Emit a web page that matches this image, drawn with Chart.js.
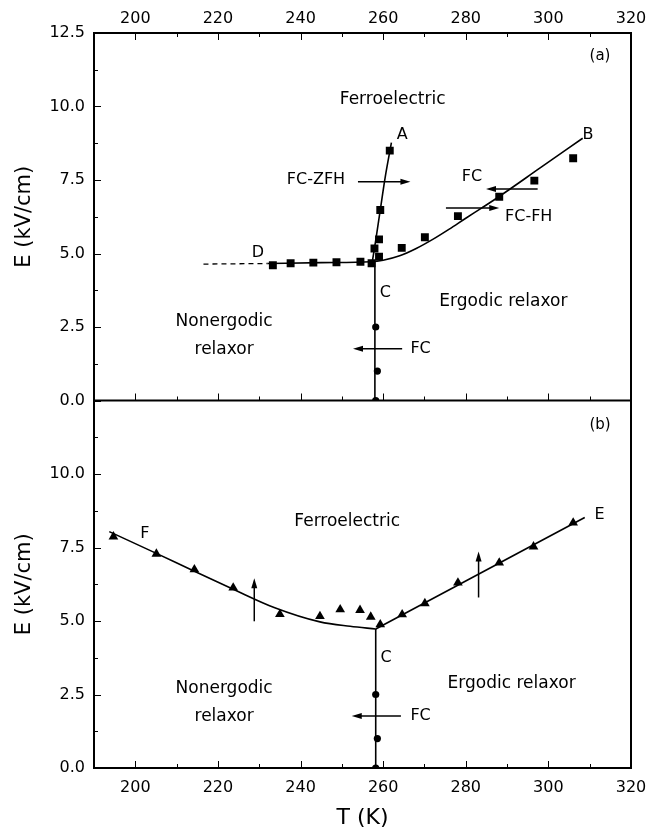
<!DOCTYPE html>
<html>
<head>
<meta charset="utf-8">
<script src="https://cdn.jsdelivr.net/npm/chart.js@4.4.0/dist/chart.umd.min.js"></script>
<style>
  html, body { margin: 0; padding: 0; background: #fff; }
  #wrap { width: 661px; height: 839px; }
</style>
</head>
<body>
<div id="wrap"><canvas id="phaseChart" width="661" height="839"></canvas></div>
<script>
// Global font settings
Chart.defaults.font.family = "'DejaVu Sans', sans-serif";
Chart.defaults.color = '#000';

// Axis ticks
const xMajor = [200, 220, 240, 260, 280, 300, 320];
const xMinor = [210, 230, 250, 270, 290, 310];
const yMajor = [0, 2.5, 5, 7.5, 10, 12.5];
const yMinor = [1.25, 3.75, 6.25, 8.75, 11.25];

// Panel (a): measured points
const sqT = [233.3, 237.6, 243.1, 248.7, 254.5, 257.2, 257.9, 259.0, 259.0, 259.3, 261.6, 264.5, 270.1, 278.1, 288.1, 296.6, 306.0];
const sqE = [4.60, 4.67, 4.69, 4.70, 4.72, 4.67, 5.17, 4.89, 5.48, 6.48, 8.50, 5.19, 5.55, 6.27, 6.93, 7.48, 8.24];
const circAT = [258.2, 258.6, 258.2];
const circAE = [2.5, 1.0, 0.0];

// Panel (a): boundary lines
const lineAT = [257.3, 258.2, 259.3, 260.5, 262.0];
const lineAE = [4.66, 5.45, 6.48, 7.60, 8.77];
const dashDT = [216.5, 232.0];
const dashDE = [4.64, 4.66];
const curveBT = [232.0, 245.0, 257.0, 260.0, 264.0, 268.0, 272.0, 276.0, 280.0, 284.0, 288.0, 298.0, 308.3];
const curveBE = [4.66, 4.69, 4.72, 4.77, 4.92, 5.17, 5.48, 5.83, 6.20, 6.56, 6.93, 7.91, 8.92];
const vertAT = [258.0, 258.0];
const vertAE = [4.72, 0.0];

// Panel (b): measured points
const triT = [194.7, 205.1, 214.3, 223.7, 235.0, 244.7, 249.6, 254.4, 257.0, 259.3, 264.6, 270.1, 278.1, 288.1, 296.4, 306.0];
const triE = [7.87, 7.28, 6.75, 6.13, 5.23, 5.16, 5.39, 5.37, 5.14, 4.88, 5.22, 5.60, 6.30, 6.98, 7.53, 8.34];
const circBT = [258.2, 258.6, 258.2];
const circBE = [2.5, 1.0, 0.0];

// Panel (b): boundary lines
const curveFT = [193.7, 205.1, 214.3, 223.7, 233.6, 244.7, 252.0, 258.2];
const curveFE = [8.04, 7.30, 6.69, 6.08, 5.46, 4.97, 4.82, 4.73];
const lineET = [258.2, 308.8];
const lineEE = [4.73, 8.52];
const vertBT = [258.2, 258.2];
const vertBE = [4.73, 0.0];

// Arrows [fromT, fromE, toT, toE]
const arrowsA = [
    [253.9, 7.44, 266.6, 7.44],
    [297.4, 7.19, 284.9, 7.19],
    [275.2, 6.55, 288.1, 6.55],
    [264.6, 1.76, 252.7, 1.76]
];
const arrowsB = [
    [228.8, 4.99, 228.8, 6.45],
    [283.1, 5.80, 283.1, 7.36],
    [264.3, 1.77, 252.4, 1.77]
];

// Text labels [text, T, E, align, size]
const labelsA = [
    ['(a)', 312.5, 11.7, 'center', 15],
    ['Ferroelectric', 262.3, 10.23, 'center', 17],
    ['A', 264.6, 9.03, 'center', 16],
    ['B', 309.6, 9.03, 'center', 16],
    ['FC-ZFH', 250.8, 7.5, 'right', 16],
    ['FC', 281.5, 7.61, 'center', 16],
    ['FC-FH', 289.5, 6.25, 'left', 16],
    ['D', 229.7, 5.02, 'center', 16],
    ['C', 260.5, 3.66, 'center', 16],
    ['Ergodic relaxor', 289.1, 3.35, 'center', 17],
    ['Nonergodic', 221.5, 2.67, 'center', 17],
    ['relaxor', 221.5, 1.73, 'center', 17],
    ['FC', 266.6, 1.76, 'left', 16]
];
const labelsB = [
    ['(b)', 312.5, 11.67, 'center', 15],
    ['Ferroelectric', 251.3, 8.38, 'center', 17],
    ['F', 202.3, 7.98, 'center', 16],
    ['E', 312.4, 8.6, 'center', 16],
    ['C', 260.7, 3.76, 'center', 16],
    ['Ergodic relaxor', 291.1, 2.87, 'center', 17],
    ['Nonergodic', 221.5, 2.70, 'center', 17],
    ['relaxor', 221.5, 1.76, 'center', 17],
    ['FC', 266.6, 1.77, 'left', 16]
];

const pts = (xs, ys) => xs.map((v, i) => ({ x: v, y: ys[i] }));

function lineSet(xs, ys, axis, extra) {
    return Object.assign({
        data: pts(xs, ys),
        yAxisID: axis,
        showLine: true,
        borderColor: '#000',
        borderWidth: 1.6,
        pointRadius: 0,
        fill: false
    }, extra || {});
}

function markSet(xs, ys, axis, style, radius) {
    return {
        data: pts(xs, ys),
        yAxisID: axis,
        showLine: false,
        pointStyle: style,
        pointRadius: radius,
        backgroundColor: '#000',
        borderColor: '#000',
        borderWidth: 0
    };
}

// Frame, inward ticks, arrows and labels
const decor = {
    id: 'decor',
    afterDatasetsDraw(chart) {
        const ctx = chart.ctx;
        const xs = chart.scales.x;
        const panels = [
            [chart.scales.yTop, arrowsA, labelsA],
            [chart.scales.yBot, arrowsB, labelsB]
        ];
        ctx.save();
        panels.forEach(([ys, arrows, labels]) => {
            arrows.forEach(a => {
                const x1 = xs.getPixelForValue(a[0]), y1 = ys.getPixelForValue(a[1]);
                const x2 = xs.getPixelForValue(a[2]), y2 = ys.getPixelForValue(a[3]);
                const ang = Math.atan2(y2 - y1, x2 - x1);
                ctx.strokeStyle = '#000';
                ctx.lineWidth = 1.5;
                ctx.beginPath();
                ctx.moveTo(x1, y1);
                ctx.lineTo(x2 - 6 * Math.cos(ang), y2 - 6 * Math.sin(ang));
                ctx.stroke();
                ctx.fillStyle = '#000';
                ctx.beginPath();
                ctx.moveTo(x2, y2);
                ctx.lineTo(x2 - 10 * Math.cos(ang) + 3 * Math.sin(ang), y2 - 10 * Math.sin(ang) - 3 * Math.cos(ang));
                ctx.lineTo(x2 - 10 * Math.cos(ang) - 3 * Math.sin(ang), y2 - 10 * Math.sin(ang) + 3 * Math.cos(ang));
                ctx.closePath();
                ctx.fill();
            });
            labels.forEach(l => {
                ctx.font = l[4] + "px 'DejaVu Sans', sans-serif";
                ctx.fillStyle = '#000';
                ctx.textAlign = l[3];
                ctx.textBaseline = 'middle';
                ctx.fillText(l[0], xs.getPixelForValue(l[1]), ys.getPixelForValue(l[2]));
            });
        });
        ctx.restore();
    },
    afterDraw(chart) {
        const ctx = chart.ctx;
        const xs = chart.scales.x;
        const ca = chart.chartArea;
        ctx.save();
        ctx.strokeStyle = '#000';
        ctx.lineWidth = 1;
        const tick = (x1, y1, x2, y2) => {
            ctx.beginPath();
            ctx.moveTo(x1, y1);
            ctx.lineTo(x2, y2);
            ctx.stroke();
        };
        [chart.scales.yTop, chart.scales.yBot].forEach((ys, p) => {
            const top = ys.top, bot = ys.bottom;
            xMajor.concat(xMinor).forEach(v => {
                const len = xMajor.includes(v) ? 7 : 4;
                const px = Math.round(xs.getPixelForValue(v)) + 0.5;
                tick(px, bot, px, bot - len);
                if (p === 0) tick(px, top, px, top + len);
            });
            yMajor.concat(yMinor).forEach(v => {
                const len = yMajor.includes(v) ? 7 : 4;
                const py = Math.round(ys.getPixelForValue(v)) + 0.5;
                tick(ca.left, py, ca.left + len, py);
            });
        });
        ctx.lineWidth = 2;
        ctx.strokeRect(ca.left, ca.top, ca.right - ca.left, ca.bottom - ca.top);
        const mid = chart.scales.yTop.bottom;
        tick(ca.left, mid, ca.right, mid);
        ctx.restore();
    }
};

const tickFmt = v => Number(v).toFixed(1);

function yAxis(hideTop) {
    return {
        type: 'linear',
        position: 'left',
        stack: 'panels',
        stackWeight: 1,
        min: 0,
        max: 12.5,
        afterBuildTicks: s => { s.ticks = yMajor.map(v => ({ value: v })); },
        afterFit: s => { s.width = 94; },
        grid: { display: false, drawTicks: false },
        border: { display: false },
        ticks: {
            padding: 9,
            font: { size: 16 },
            callback: v => (hideTop && v === 12.5) ? '' : tickFmt(v)
        },
        title: {
            display: true,
            text: 'E (kV/cm)',
            font: { size: 21 },
            padding: { top: 12, bottom: 0 }
        }
    };
}

new Chart(document.getElementById('phaseChart'), {
    type: 'scatter',
    data: {
        datasets: [
            lineSet(dashDT, dashDE, 'yTop', { borderDash: [5, 4], borderWidth: 1.3 }),
            lineSet(curveBT, curveBE, 'yTop', { cubicInterpolationMode: 'monotone' }),
            lineSet(lineAT, lineAE, 'yTop', { cubicInterpolationMode: 'monotone' }),
            lineSet(vertAT, vertAE, 'yTop'),
            markSet(sqT, sqE, 'yTop', 'rect', 5.6),
            markSet(circAT, circAE, 'yTop', 'circle', 3.6),
            lineSet(curveFT, curveFE, 'yBot', { cubicInterpolationMode: 'monotone' }),
            lineSet(lineET, lineEE, 'yBot'),
            lineSet(vertBT, vertBE, 'yBot'),
            markSet(triT, triE, 'yBot', 'triangle', 5.6),
            markSet(circBT, circBE, 'yBot', 'circle', 3.6)
        ]
    },
    options: {
        responsive: false,
        animation: false,
        devicePixelRatio: 1,
        layout: { padding: { left: 0, right: 30, top: 0, bottom: 0 } },
        plugins: {
            legend: { display: false },
            tooltip: { enabled: false }
        },
        scales: {
            x: {
                type: 'linear',
                position: 'bottom',
                min: 190,
                max: 320,
                afterBuildTicks: s => { s.ticks = xMajor.map(v => ({ value: v })); },
                afterFit: s => { s.height = 71; },
                grid: { display: false, drawTicks: false },
                border: { display: false },
                ticks: { padding: 10, font: { size: 16 }, maxRotation: 0 },
                title: {
                    display: true,
                    text: 'T (K)',
                    font: { size: 22 },
                    padding: { top: 0, bottom: 8 }
                }
            },
            x2: {
                type: 'linear',
                position: 'top',
                min: 190,
                max: 320,
                afterBuildTicks: s => { s.ticks = xMajor.map(v => ({ value: v })); },
                afterFit: s => { s.height = 33; },
                grid: { display: false, drawTicks: false },
                border: { display: false },
                ticks: { padding: 5, font: { size: 16 }, maxRotation: 0 }
            },
            yBot: yAxis(true),
            yTop: yAxis(false)
        }
    },
    plugins: [decor]
});
</script>
</body>
</html>
